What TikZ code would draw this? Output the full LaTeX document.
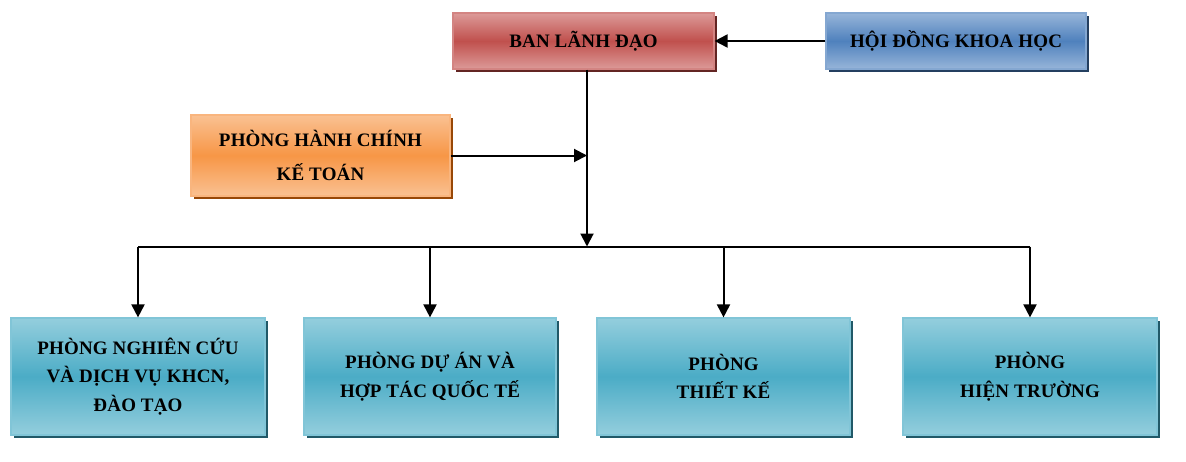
\documentclass[tikz,border=0pt]{standalone}
\usepackage{fontspec}
\setmainfont{Liberation Serif}
\newfontfamily\unitfont{Liberation Serif}[LetterSpace=1]
\usetikzlibrary{arrows.meta,shadows}

\definecolor{redhi}{HTML}{DC9A98}
\definecolor{redmid}{HTML}{C0504D}
\definecolor{redsh}{HTML}{632523}
\definecolor{bluehi}{HTML}{97B5D9}
\definecolor{bluemid}{HTML}{4F81BD}
\definecolor{bluesh}{HTML}{243F60}
\definecolor{orangehi}{HTML}{FAC192}
\definecolor{orangemid}{HTML}{F79646}
\definecolor{orangesh}{HTML}{984807}
\definecolor{tealhi}{HTML}{94CEDD}
\definecolor{tealmid}{HTML}{4BACC6}
\definecolor{tealsh}{HTML}{215968}

\tikzset{
  unit/.style={line width=1.2pt, inner sep=0pt, align=center,
    font=\unitfont\bfseries\fontsize{19}{28.5}\selectfont},
  tint/.style={draw=#1mid!70!white, top color=#1hi, bottom color=#1hi,
    middle color=#1mid,
    drop shadow={shadow xshift=3pt, shadow yshift=-3pt, opacity=1, fill=#1sh}},
  link/.style={line width=2pt},
  arr/.style={link, -{Triangle[length=13pt,width=13pt]}}
}

\begin{document}
\begin{tikzpicture}[x=1pt,y=-1pt]
\useasboundingbox (0,0) rectangle (1186,461);

% top row
\node[unit, tint=red, minimum width=261pt, minimum height=56pt] (lead) at (583.5,41) {BAN LÃNH ĐẠO};
\node[unit, tint=blue, minimum width=260pt, minimum height=56pt] (council) at (956,41) {HỘI ĐỒNG KHOA HỌC};
\node[unit, tint=orange, minimum width=259pt, minimum height=81pt,
  font=\unitfont\bfseries\fontsize{19}{33.3}\selectfont] (admin) at (320.5,155.5) {PHÒNG HÀNH CHÍNH\\KẾ TOÁN};

% departments
\node[unit, tint=teal, minimum width=254pt, minimum height=117pt] (d1) at (138,376.5) {PHÒNG NGHIÊN CỨU\\VÀ DỊCH VỤ KHCN,\\ĐÀO TẠO};
\node[unit, tint=teal, minimum width=252pt, minimum height=117pt] (d2) at (430,376.5) {PHÒNG DỰ ÁN VÀ\\HỢP TÁC QUỐC TẾ};
\node[unit, tint=teal, minimum width=253pt, minimum height=117pt] (d3) at (723.5,376.5) {PHÒNG\\THIẾT KẾ};
\node[unit, tint=teal, minimum width=254pt, minimum height=117pt] (d4) at (1030,376.5) {PHÒNG\\HIỆN TRƯỜNG};

\coordinate (bus) at (587,246.5);

\draw[arr] (council.west) -- (lead.east);
\draw[arr] (lead.south -| bus) -- (bus);
\draw[arr] (admin.east) -- (admin.east -| bus);
\draw[link] (d1.north |- bus) -- (d4.north |- bus);
\foreach \d in {d1,d2,d3,d4}{
    \draw[arr] (\d.north |- bus) -- (\d.north);
}
\end{tikzpicture}
\end{document}
